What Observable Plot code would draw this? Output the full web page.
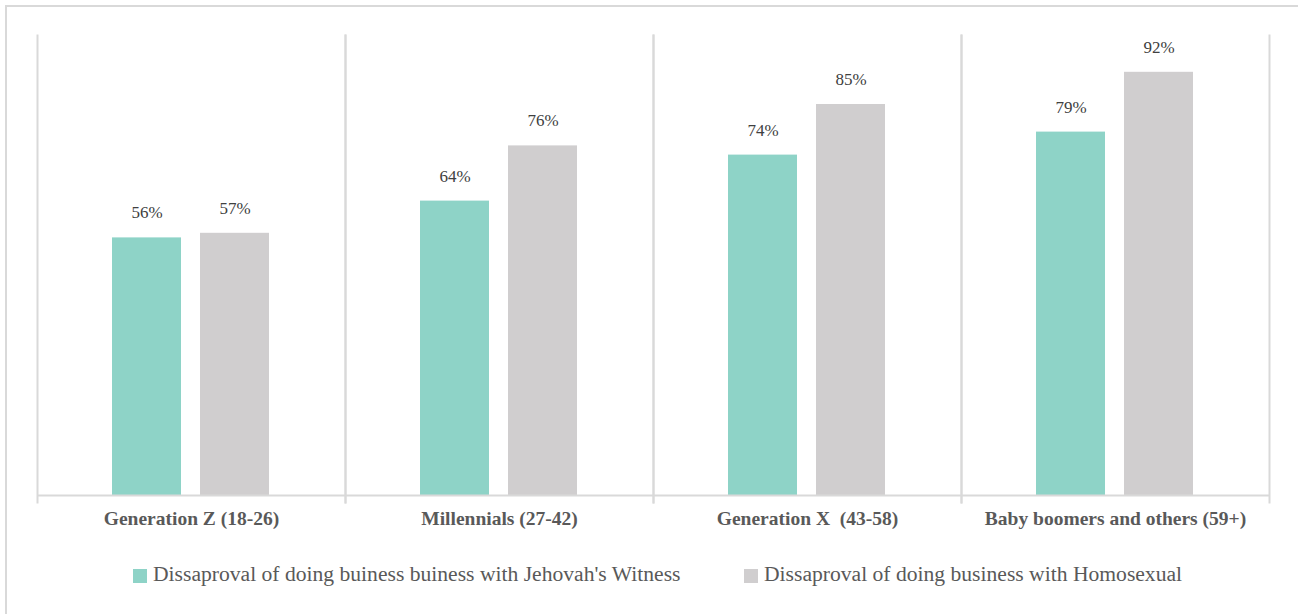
<!DOCTYPE html>
<html>
<head>
<meta charset="utf-8">
<script src="https://cdn.jsdelivr.net/npm/d3@7"></script>
<script src="https://cdn.jsdelivr.net/npm/@observablehq/plot@0.6"></script>
<style>
  html, body { margin: 0; padding: 0; background: #fff; overflow: hidden; width: 1298px; height: 614px; }
  #wrap { position: relative; width: 1298px; height: 614px; }
  #border { position: absolute; left: 5px; top: 5px; width: 1400px; height: 800px; border-left: 2px solid #d9d9d9; border-top: 2px solid #d9d9d9; }
  #chart { position: absolute; left: 0; top: 0; }
  #legend { position: absolute; top: 560px; left: 0; width: 1298px; height: 28px; font-family: "Liberation Serif", "Times New Roman", serif; font-size: 21.6px; color: #595959; }
  .item { position: absolute; top: 0; display: flex; align-items: center; height: 28px; white-space: nowrap; }
  .sw { width: 14px; height: 14px; margin-right: 6px; margin-top: 4px; }
</style>
</head>
<body>
<div id="wrap">
  <div id="border"></div>
  <div id="chart"></div>
  <div id="legend"></div>
</div>
<script>
const categories = ["Generation Z (18-26)", "Millennials (27-42)", "Generation X  (43-58)", "Baby boomers and others (59+)"];
const seriesNames = ["Dissaproval of doing buiness buiness with Jehovah's Witness", "Dissaproval of doing business with Homosexual"];
const jehovahValues = [56, 64, 74, 79];
const homosexualValues = [57, 76, 85, 92];
const seriesColors = ["#8ed3c7", "#d0cecf"];

const data = [];
categories.forEach((c, i) => {
  data.push({group: c, series: seriesNames[0], value: jehovahValues[i]});
  data.push({group: c, series: seriesNames[1], value: homosexualValues[i]});
});

const chart = Plot.plot({
  width: 1298,
  height: 545,
  marginTop: 35,
  marginBottom: 50,
  marginLeft: 36,
  marginRight: 28,
  style: {fontFamily: "'Liberation Serif', 'Times New Roman', serif", background: "transparent"},
  fx: {domain: categories, padding: 0, label: null},
  x: {domain: seriesNames, paddingInner: 0.2135, paddingOuter: 0.84, axis: null},
  y: {domain: [0, 100], axis: null},
  color: {domain: seriesNames, range: seriesColors},
  marks: [
    Plot.frame({anchor: "left", stroke: "#d9d9d9", strokeWidth: 2, insetBottom: -7}),
    Plot.frame({anchor: "right", stroke: "#d9d9d9", strokeWidth: 2, insetBottom: -7}),
    Plot.barY(data, {fx: "group", x: "series", y: "value", fill: "series"}),
    Plot.ruleY([0], {stroke: "#d9d9d9", strokeWidth: 2}),
    Plot.text(data, {fx: "group", x: "series", y: "value", text: d => d.value + "%", dy: -25, fontSize: 17, fill: "#404040"}),
    Plot.axisFx({anchor: "bottom", tickSize: 0, tickPadding: 16, fontSize: 19.5, fontWeight: "bold", fill: "#595959", label: null})
  ]
});
document.getElementById("chart").appendChild(chart);

const legend = document.getElementById("legend");
const legendLeft = [133, 744];
seriesNames.forEach((s, i) => {
  const item = document.createElement("div");
  item.className = "item";
  item.style.left = legendLeft[i] + "px";
  const sw = document.createElement("span");
  sw.className = "sw";
  sw.style.background = seriesColors[i];
  const t = document.createElement("span");
  t.textContent = s;
  item.appendChild(sw);
  item.appendChild(t);
  legend.appendChild(item);
});
</script>
</body>
</html>
